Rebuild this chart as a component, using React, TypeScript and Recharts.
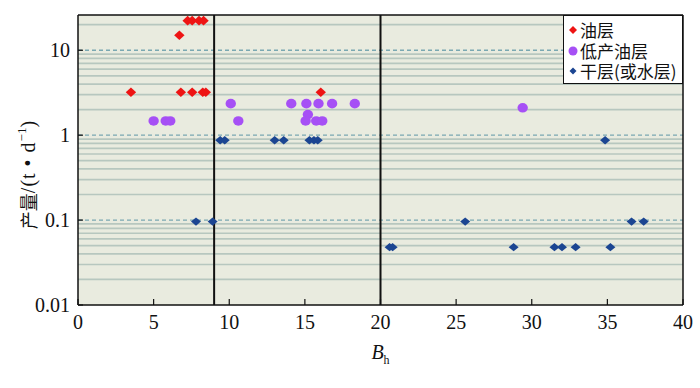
import React from 'react';
import { ScatterChart, Scatter, XAxis, YAxis, CartesianGrid, ReferenceLine, Legend } from 'recharts';

// 油层
const oilX = [3.5, 6.8, 7.55, 8.25, 8.45, 6.7, 7.25, 7.55, 8.0, 8.3, 16.05];
const oilY = [3.2, 3.2, 3.2, 3.2, 3.2, 15, 22.3, 22.3, 22.3, 22.3, 3.2];
// 低产油层
const lowX = [5.0, 5.8, 6.1, 10.1, 10.6, 14.1, 15.1, 15.2, 15.05, 15.75, 16.15, 15.9, 16.8, 18.3, 29.4];
const lowY = [1.47, 1.47, 1.47, 2.35, 1.47, 2.35, 2.35, 1.75, 1.47, 1.47, 1.47, 2.35, 2.35, 2.35, 2.1];
// 干层(或水层)
const dryX = [9.4, 9.7, 13.0, 13.6, 15.3, 15.6, 15.85, 34.85, 7.8, 8.9, 25.6, 36.6, 37.4, 20.6, 20.8, 28.8, 31.5, 32.0, 32.9, 35.2];
const dryY = [0.87, 0.87, 0.87, 0.87, 0.87, 0.87, 0.87, 0.87, 0.096, 0.096, 0.096, 0.096, 0.096, 0.048, 0.048, 0.048, 0.048, 0.048, 0.048, 0.048];

const seriesNames = ['油层', '低产油层', '干层(或水层)'];
const xTicks = [0, 5, 10, 15, 20, 25, 30, 35, 40];
const yTicks = [0.01, 0.1, 1, 10];
const yMinor = [
  0.02, 0.03, 0.04, 0.05, 0.06, 0.07, 0.08, 0.09,
  0.2, 0.3, 0.4, 0.5, 0.6, 0.7, 0.8, 0.9,
  2, 3, 4, 5, 6, 7, 8, 9,
  20,
];
const yMajorDashed = [0.1, 1, 10];
const boundaryX = [9, 20];
const X_DOMAIN = [0, 40];
const Y_DOMAIN = [0.01, 26];

const RED = '#ee1414';
const PURPLE = '#a650f5';
const BLUE = '#1b4592';

const pts = (xs: number[], ys: number[]) => xs.map((x, i) => ({ x, y: ys[i] }));
const oilData = pts(oilX, oilY);
const lowData = pts(lowX, lowY);
const dryData = pts(dryX, dryY);

const diamond = (color: string, w: number, h: number) => (props: any) => {
  const { cx, cy } = props;
  if (cx == null || cy == null) return null;
  return (
    <polygon
      points={`${cx},${cy - h} ${cx + w},${cy} ${cx},${cy + h} ${cx - w},${cy}`}
      fill={color}
    />
  );
};
const circle = (color: string, r: number) => (props: any) => {
  const { cx, cy } = props;
  if (cx == null || cy == null) return null;
  return <ellipse cx={cx} cy={cy} rx={r} ry={r * 0.92} fill={color} />;
};

const SERIF = '"Liberation Serif", "DejaVu Serif", "Noto Sans CJK SC", serif';
const CJK = '"Noto Sans CJK SC", "Liberation Serif", serif';

const XTick = (props: any) => {
  const { x, y, payload } = props;
  return (
    <text x={x} y={y} dy="0.71em" textAnchor="middle" fontSize={20} fontFamily={SERIF} fill="#111">
      {payload.value}
    </text>
  );
};
const YTick = (props: any) => {
  const { x, y, payload } = props;
  return (
    <text x={x} y={y} dy="0.34em" textAnchor="end" fontSize={20} fontFamily={SERIF} fill="#111">
      {String(payload.value)}
    </text>
  );
};

const YLabel = (props: any) => {
  const vb = props.viewBox || { x: 0, y: 15, width: 78, height: 290 };
  const cx = vb.x + 28;
  const cy = vb.y + vb.height / 2 + 15;
  return (
    <text
      x={cx}
      y={cy}
      transform={`rotate(-90, ${cx}, ${cy})`}
      textAnchor="middle"
      dominantBaseline="central"
      fontSize={20}
      fontFamily={SERIF}
      fill="#111"
    >
      <tspan fontFamily={CJK} fontSize={18}>产量</tspan>
      <tspan letterSpacing={1}>/(t • d</tspan>
      <tspan dy={-7} fontSize={13}>−1</tspan>
      <tspan dy={7}>)</tspan>
    </text>
  );
};

const XLabel = (props: any) => {
  const vb = props.viewBox || { x: 78, y: 305, width: 605, height: 83 };
  const cx = vb.x + vb.width / 2;
  return (
    <text x={cx} y={359} textAnchor="middle" fontSize={20} fontFamily={SERIF} fill="#111">
      <tspan fontStyle="italic">B</tspan>
      <tspan dy={5} fontSize={12}>h</tspan>
    </text>
  );
};

const legendMarkers = [
  <svg width={10} height={10} key="a"><polygon points="5,1 9,5 5,9 1,5" fill={RED} /></svg>,
  <svg width={10} height={10} key="b"><circle cx={5} cy={5} r={4.5} fill={PURPLE} /></svg>,
  <svg width={10} height={10} key="c"><polygon points="5,1.5 8.5,5 5,8.5 1.5,5" fill={BLUE} /></svg>,
];

const LegendBox = () => (
  <div
    style={{
      boxSizing: 'border-box',
      width: 120,
      height: 69,
      border: '1.5px solid #111',
      background: '#fff',
      paddingTop: 4,
      paddingLeft: 4,
      fontFamily: CJK,
      fontSize: 17,
      lineHeight: '20.5px',
      color: '#111',
      whiteSpace: 'nowrap',
    }}
  >
    {seriesNames.map((n, i) => (
      <div key={n} style={{ display: 'flex', alignItems: 'center', height: 20.5 }}>
        <span style={{ width: 12, display: 'inline-flex', alignItems: 'center' }}>{legendMarkers[i]}</span>
        <span>{n}</span>
      </div>
    ))}
  </div>
);

export default function App() {
  return (
    <div style={{ position: 'absolute', left: 0, top: 0, width: 700, height: 388, background: '#fff' }}>
      <ScatterChart width={700} height={388} margin={{ top: 15, right: 17, left: 0, bottom: 0 }}>
        <CartesianGrid fill="#e9ebdf" horizontal={false} vertical={false} />
        {yMinor.map((v) => (
          <ReferenceLine key={`m${v}`} y={v} stroke="#b7c7bf" strokeWidth={1.7} ifOverflow="hidden" />
        ))}
        {yMajorDashed.map((v) => (
          <ReferenceLine key={`d${v}`} y={v} stroke="#7aa8b2" strokeWidth={1.3} strokeDasharray="4 3" />
        ))}
        {boundaryX.map((v) => (
          <ReferenceLine key={`b${v}`} x={v} stroke="#111" strokeWidth={2} />
        ))}
        <ReferenceLine y={Y_DOMAIN[1]} stroke="#111" strokeWidth={1.5} />
        <ReferenceLine x={X_DOMAIN[1]} stroke="#111" strokeWidth={1.5} />
        <XAxis
          type="number"
          dataKey="x"
          domain={X_DOMAIN}
          ticks={xTicks}
          allowDataOverflow
          height={83}
          axisLine={{ stroke: '#111', strokeWidth: 1.5 }}
          tickLine={{ stroke: '#111', strokeWidth: 1.2 }}
          tickSize={-6}
          tickMargin={16}
          tick={<XTick />}
          label={<XLabel />}
          interval={0}
        />
        <YAxis
          type="number"
          dataKey="y"
          scale="log"
          domain={Y_DOMAIN}
          ticks={yTicks}
          allowDataOverflow
          width={78}
          axisLine={{ stroke: '#111', strokeWidth: 1.5 }}
          tickLine={{ stroke: '#111', strokeWidth: 1.2 }}
          tickSize={-5}
          tickMargin={13}
          tick={<YTick />}
          label={<YLabel />}
          interval={0}
        />
        <Scatter name={seriesNames[0]} data={oilData} fill={RED} shape={diamond(RED, 5.2, 4.8)} isAnimationActive={false} />
        <Scatter name={seriesNames[1]} data={lowData} fill={PURPLE} shape={circle(PURPLE, 5.2)} isAnimationActive={false} />
        <Scatter name={seriesNames[2]} data={dryData} fill={BLUE} shape={diamond(BLUE, 5, 4.2)} isAnimationActive={false} />
        <Legend
          layout="vertical"
          align="center"
          verticalAlign="middle"
          content={<LegendBox />}
          wrapperStyle={{ position: 'absolute', left: 563, top: 15, width: 120, height: 69 }}
        />
      </ScatterChart>
    </div>
  );
}
